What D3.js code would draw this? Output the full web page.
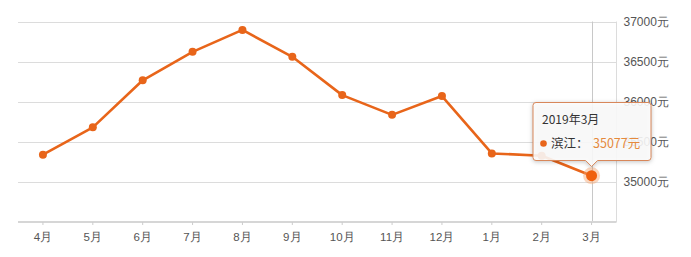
<!DOCTYPE html>
<html><head><meta charset="utf-8">
<script src="https://cdn.jsdelivr.net/npm/d3@7"></script>
<style>
html,body{margin:0;padding:0;background:#fff;}
svg{display:block;font-family:"Noto Sans CJK SC","Noto Sans",sans-serif;}
</style></head>
<body>
<svg id="c" width="691" height="257"></svg>
<script>
const months = ["4月","5月","6月","7月","8月","9月","10月","11月","12月","1月","2月","3月"];
const prices = [35339, 35680, 36267, 36622, 36895, 36560, 36082, 35836, 36070, 35355, 35327, 35077];
const yTicks = [35000, 35500, 36000, 36500, 37000];
const seriesName = "滨江";
const tipTitle = "2019年3月";
const hoverIndex = 11;

const svg = d3.select("#c");
const L = 18, R = 616.5, T = 21.5, B = 222;
const x = d3.scaleBand().domain(months).range([L, R]);
const y = d3.scaleLinear().domain([34500, 37000]).range([B, T]);
const cx = d => x(d) + x.bandwidth()/2;

// gridlines
svg.append("g").selectAll("line").data(yTicks).join("line")
  .attr("x1", L).attr("x2", R).attr("y1", d => Math.round(y(d))+0.5).attr("y2", d => Math.round(y(d))+0.5)
  .attr("stroke", "#dcdcdc").attr("stroke-width", 1);
// right border
svg.append("line").attr("x1", R).attr("x2", R).attr("y1", T).attr("y2", B)
  .attr("stroke", "#dcdcdc");

// y axis labels on right
const ya = svg.append("g").attr("transform", `translate(${R},0)`)
  .call(d3.axisRight(y).tickValues(yTicks).tickSize(0).tickPadding(7).tickFormat(d => d + "元"));
ya.select(".domain").remove();
ya.selectAll("text").attr("fill", "#555").attr("font-size", 12);

// crosshair
svg.append("line").attr("x1", Math.round(cx(months[hoverIndex]))+0.5).attr("x2", Math.round(cx(months[hoverIndex]))+0.5)
  .attr("y1", T).attr("y2", B).attr("stroke", "#c8c8c8");

// x axis
const xa = svg.append("g").attr("transform", `translate(0,${B})`)
  .call(d3.axisBottom(x).tickSize(3).tickPadding(8));
xa.select(".domain").attr("stroke", "#d6d6d6").attr("stroke-width", 2).attr("d", `M${L},0H${R}`);
xa.selectAll(".tick line").attr("stroke", "#ccc");
xa.selectAll("text").attr("fill", "#555").attr("font-size", 11.5);

const data = months.map((m,i) => ({m, v: prices[i]}));
const orange = "#e8651a";
svg.append("path").datum(data)
  .attr("fill", "none").attr("stroke", orange).attr("stroke-width", 2.6).attr("stroke-linejoin", "round")
  .attr("d", d3.line().x(d => cx(d.m)).y(d => y(d.v)));
svg.append("g").selectAll("circle").data(data.filter((d,i) => i !== hoverIndex)).join("circle")
  .attr("cx", d => cx(d.m)).attr("cy", d => y(d.v)).attr("r", 4).attr("fill", orange);

// hovered point
const hp = data[hoverIndex];
svg.append("circle").attr("cx", cx(hp.m)).attr("cy", y(hp.v)).attr("r", 8.5).attr("fill", "#f7a56e").attr("opacity", 0.45);
svg.append("circle").attr("cx", cx(hp.m)).attr("cy", y(hp.v)).attr("r", 5.5).attr("fill", "#f0600e");

// tooltip
const tx = 533, ty = 102.5, tw = 118, th = 58;
const ax = cx(hp.m);
const tip = svg.append("g");
tip.append("path")
  .attr("d", `M${tx+3},${ty} H${tx+tw-3} Q${tx+tw},${ty} ${tx+tw},${ty+3} V${ty+th-3} Q${tx+tw},${ty+th} ${tx+tw-3},${ty+th} H${ax+6} L${ax},${ty+th+6} L${ax-6},${ty+th} H${tx+3} Q${tx},${ty+th} ${tx},${ty+th-3} V${ty+3} Q${tx},${ty} ${tx+3},${ty} Z`)
  .attr("fill", "rgba(255,255,255,0.88)").attr("stroke", "#d8875a").attr("stroke-width", 1)
  .style("filter", "drop-shadow(0px 1px 2px rgba(0,0,0,0.25))");
tip.append("text").attr("x", tx+9).attr("y", ty+21).attr("fill", "#333").attr("font-size", 12).text(tipTitle);
tip.append("circle").attr("cx", tx+10.5).attr("cy", ty+41).attr("r", 3.3).attr("fill", orange);
tip.append("text").attr("x", tx+18).attr("y", ty+45.5).attr("fill", "#333").attr("font-size", 12.5).text(seriesName + "：");
tip.append("text").attr("x", tx+60).attr("y", ty+45.5).attr("fill", "#e58a3c").attr("font-size", 12.5).text(hp.v + "元");
</script>
</body></html>
